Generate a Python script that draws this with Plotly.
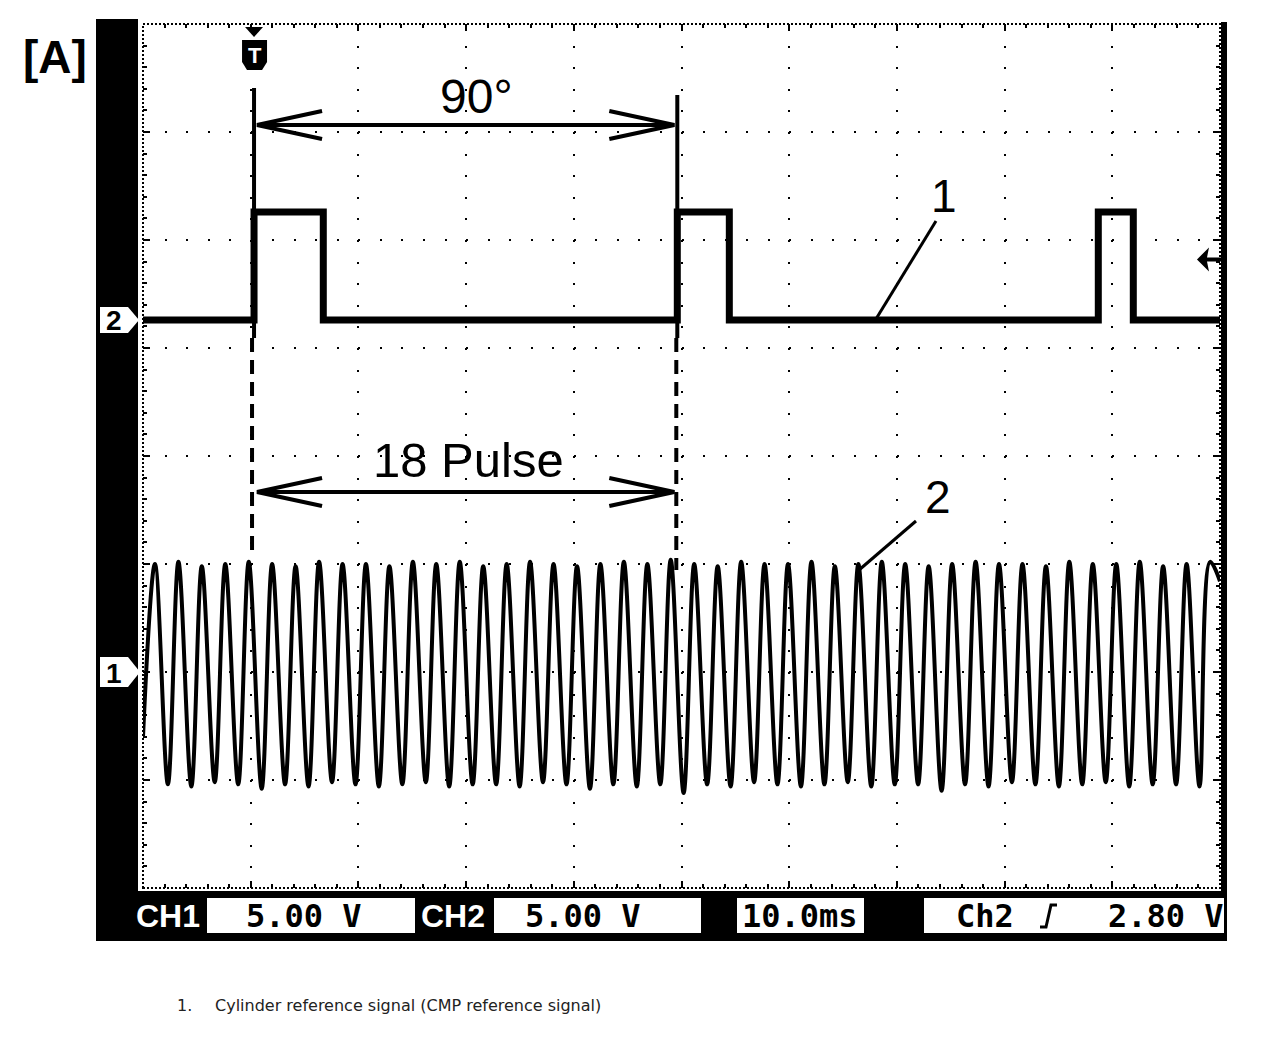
import plotly.graph_objects as go

# ---------------- data ----------------
# time in ms (10.0 ms/div, 10 divisions), voltages in V (5.00 V/div)
ch2_edge_ms = [0.0, 10.31, 16.74, 49.61, 54.44, 88.70, 91.95, 100.0]
ch2_volts = [0.0, 5.0, 0.0, 5.0, 0.0, 5.0, 0.0, 0.0]

ch1_peak_ms = [1.11, 3.29, 5.46, 7.64, 9.82, 11.99, 14.17, 16.35, 18.53, 20.70,
               22.88, 25.06, 27.23, 29.41, 31.59, 33.77, 35.94, 38.12, 40.30, 42.47,
               44.65, 46.83, 49.00, 51.18, 53.36, 55.54, 57.71, 59.89, 62.07, 64.24,
               66.42, 68.60, 70.77, 72.95, 75.13, 77.31, 79.48, 81.66, 83.84, 86.01,
               88.19, 90.37, 92.55, 94.72, 96.90, 99.08]
ch1_peak_v = [5.0, 5.1, 4.9, 5.0, 5.1, 5.0, 4.9, 5.1, 5.0, 5.0,
              4.9, 5.1, 5.0, 5.1, 4.9, 5.0, 5.1, 5.0, 4.9, 5.0,
              5.1, 5.0, 5.2, 5.0, 4.9, 5.1, 5.0, 5.0, 5.1, 4.9,
              5.0, 5.1, 5.0, 4.9, 5.0, 5.1, 5.0, 5.0, 4.9, 5.1,
              5.0, 5.0, 5.1, 4.9, 5.0, 5.1]
ch1_trough_ms = [2.31, 4.49, 6.66, 8.84, 11.02, 13.19, 15.37, 17.55, 19.73, 21.90,
                 24.08, 26.26, 28.43, 30.61, 32.79, 34.97, 37.14, 39.32, 41.50, 43.67,
                 45.85, 48.03, 50.20, 52.38, 54.56, 56.74, 58.91, 61.09, 63.27, 65.44,
                 67.62, 69.80, 71.97, 74.15, 76.33, 78.51, 80.68, 82.86, 85.04, 87.21,
                 89.39, 91.57, 93.75, 95.92, 98.10]
ch1_trough_v = [-5.2, -5.3, -5.1, -5.2, -5.4, -5.2, -5.3, -5.1, -5.2, -5.3,
                -5.2, -5.1, -5.3, -5.2, -5.2, -5.3, -5.1, -5.2, -5.4, -5.2,
                -5.3, -5.2, -5.6, -5.2, -5.3, -5.1, -5.2, -5.3, -5.2, -5.1,
                -5.3, -5.2, -5.2, -5.5, -5.2, -5.3, -5.1, -5.2, -5.3, -5.2,
                -5.1, -5.3, -5.2, -5.2, -5.3]
ch1_start_ms, ch1_start_v = 0.0, -3.0
ch1_end_ms, ch1_end_v = 100.0, 4.2

ms_per_div = 10.0
volts_per_div = 5.0
ch1_ground_div = 2.0
ch2_ground_div = 5.26
trigger_level_v = 2.80

# readout texts
readouts = ["CH1", "5.00 V", "CH2", "5.00 V", "10.0ms", "Ch2", "2.80 V"]

# ---------------- layout geometry ----------------
# page pixel coordinates are used below; the page body has an 8px margin
OFF = 8
W, H = 1264 - OFF, 1056 - OFF
L, R, T, B = 143, 1220, 24, 888   # plot area in page pixels


def px(x):
    return (x - L) / (R - L)


def py(y):
    return (B - y) / (B - T)


# build CH1 point list
ch1_t = [ch1_start_ms]
ch1_v = [ch1_start_v]
for i in range(len(ch1_peak_ms)):
    ch1_t.append(ch1_peak_ms[i])
    ch1_v.append(ch1_peak_v[i])
    if i < len(ch1_trough_ms):
        ch1_t.append(ch1_trough_ms[i])
        ch1_v.append(ch1_trough_v[i])
ch1_t.append(ch1_end_ms)
ch1_v.append(ch1_end_v)
ch1_y = [ch1_ground_div + v / volts_per_div for v in ch1_v]
ch2_y = [ch2_ground_div + v / volts_per_div for v in ch2_volts]

fig = go.Figure()
fig.add_trace(go.Scatter(x=ch1_t, y=ch1_y, mode="lines",
                         line=dict(color="black", width=4, shape="spline", smoothing=1.0),
                         hoverinfo="skip", showlegend=False))
fig.add_trace(go.Scatter(x=ch2_edge_ms, y=ch2_y, mode="lines",
                         line=dict(color="black", width=7, shape="hv"),
                         hoverinfo="skip", showlegend=False))

shapes = []
annotations = []


def rect(x0, y0, x1, y1, color):
    shapes.append(dict(type="rect", xref="paper", yref="paper",
                       x0=px(x0), x1=px(x1), y0=py(y1), y1=py(y0),
                       fillcolor=color, line=dict(width=0), layer="above"))


def path(points, fill=None, width=0, dash="solid", close=False, color="black"):
    d = "M" + " L".join(f"{px(a):.5f},{py(b):.5f}" for a, b in points)
    if close:
        d += " Z"
    s = dict(type="path", xref="paper", yref="paper", path=d, layer="above",
             line=dict(color=color, width=width, dash=dash))
    if fill:
        s["fillcolor"] = fill
    if width == 0:
        s["line"] = dict(width=0)
    shapes.append(s)


def text(x, y, s, size, color="black", family="Liberation Sans", xanchor="center", bold=False):
    annotations.append(dict(xref="paper", yref="paper", x=px(x), y=py(y), text=(f"<b>{s}</b>" if bold else s),
                            showarrow=False, xanchor=xanchor, yanchor="middle",
                            font=dict(size=size, color=color, family=family)))


# dotted frame of the graticule
shapes.append(dict(type="rect", xref="paper", yref="paper", x0=0, x1=1, y0=0, y1=1,
                   line=dict(color="black", width=2, dash="2px,2px"), layer="below"))

# black instrument frame (left, bottom, right)
rect(96, 19, 138, 941, "black")
rect(96, 891, 1227, 941, "black")
rect(1221, 22, 1227, 941, "black")

# readout boxes
rect(207, 898, 415, 933, "white")
rect(494, 898, 701, 933, "white")
rect(737, 898, 864, 933, "white")
rect(924, 898, 1224, 933, "white")
mono = "DejaVu Sans Mono"
text(168, 916, readouts[0], 32, "white", "Liberation Sans", bold=True)
text(304, 916, readouts[1], 32, "black", mono, bold=True)
text(453, 916, readouts[2], 32, "white", "Liberation Sans", bold=True)
text(583, 916, readouts[3], 32, "black", mono, bold=True)
text(800, 916, readouts[4], 32, "black", mono, bold=True)
text(985, 916, readouts[5], 32, "black", mono, bold=True)
text(1166, 916, readouts[6], 32, "black", mono, bold=True)
# rising-slope symbol
path([(1040, 927), (1046, 927), (1051, 905), (1057, 905)], width=3)

# channel ground markers
y2 = B - ch2_ground_div * (B - T) / 8
y1 = B - ch1_ground_div * (B - T) / 8
path([(100, y2 - 13), (128, y2 - 13), (139, y2), (128, y2 + 13), (100, y2 + 13)], fill="white", close=True)
text(114, y2 + 1, "2", 28, "black", "Liberation Sans", bold=True)
path([(100, y1 - 15), (128, y1 - 15), (140, y1), (128, y1 + 15), (100, y1 + 15)], fill="white", close=True)
text(114, y1 + 1, "1", 28, "black", "Liberation Sans", bold=True)

# trigger position marker (T)
xt = L + ch2_edge_ms[1] / 100 * (R - L)
path([(xt - 9, 27), (xt + 9, 27), (xt, 37)], fill="black", close=True)
path([(xt - 12, 40), (xt + 13, 40), (xt + 13, 62), (xt + 8, 70), (xt - 7, 70), (xt - 12, 62)], fill="black", close=True)
text(xt + 0.5, 55, "T", 22, "white", "Liberation Sans", bold=True)

# trigger level marker (right)
yl = B - (ch2_ground_div + trigger_level_v / volts_per_div) * (B - T) / 8
path([(1197, yl), (1209, yl - 12), (1207, yl - 2), (1221, yl - 2), (1221, yl + 2), (1207, yl + 2), (1209, yl + 12)],
     fill="black", close=True)

# measurement annotations tied to the CMP pulse rising edges
xa = L + ch2_edge_ms[1] / 100 * (R - L)
xb = L + ch2_edge_ms[3] / 100 * (R - L)
path([(xa, 88), (xa, 338)], width=4)
path([(xa - 2, 338), (xa - 2, 556)], width=4, dash="14px,8px")
path([(xb, 95), (xb, 338)], width=4)
path([(xb - 1, 338), (xb - 1, 570)], width=4, dash="14px,8px")

for yarr in (125, 492):
    path([(xa + 3, yarr), (xb - 3, yarr)], width=4)
    path([(xa + 68, yarr - 14), (xa + 3, yarr), (xa + 68, yarr + 14)], width=4)
    path([(xb - 68, yarr - 14), (xb - 3, yarr), (xb - 68, yarr + 14)], width=4)

text(476, 97, "90°", 48)
text(468, 460, "18 Pulse", 49)

# callouts
path([(936, 221), (876, 319)], width=3)
text(944, 196, "1", 46)
path([(916, 521), (859, 570)], width=3)
text(938, 497, "2", 46)

# figure label and footnote
text(55, 57, "[A]", 46, bold=True)
annotations.append(dict(xref="paper", yref="paper", x=px(175), y=py(1006), text="1.",
                        showarrow=False, xanchor="left", yanchor="middle",
                        font=dict(size=16, color="#222", family="DejaVu Sans")))
annotations.append(dict(xref="paper", yref="paper", x=px(213), y=py(1006),
                        text="Cylinder reference signal (CMP reference signal)",
                        showarrow=False, xanchor="left", yanchor="middle",
                        font=dict(size=16, color="#222", family="DejaVu Sans")))

fig.update_layout(
    width=W, height=H,
    margin=dict(l=L - OFF, r=W - (R - OFF), t=T - OFF, b=H - (B - OFF), pad=0),
    paper_bgcolor="white", plot_bgcolor="white",
    shapes=shapes, annotations=annotations,
    showlegend=False,
    xaxis=dict(range=[0, 10 * ms_per_div], dtick=ms_per_div, showticklabels=False,
               showgrid=True, gridcolor="black", gridwidth=2, griddash="2px,19.6px",
               zeroline=False, showline=False, ticks="inside", ticklen=7, tickwidth=2,
               tickcolor="black", mirror="ticks",
               minor=dict(dtick=ms_per_div / 5, ticks="inside", ticklen=4, tickwidth=2,
                          tickcolor="black", showgrid=False),
               fixedrange=True),
    yaxis=dict(range=[0, 8], dtick=1, showticklabels=False,
               showgrid=True, gridcolor="black", gridwidth=2, griddash="2px,19.54px",
               zeroline=False, showline=False, ticks="inside", ticklen=7, tickwidth=2,
               tickcolor="black", mirror="ticks",
               minor=dict(dtick=0.2, ticks="inside", ticklen=4, tickwidth=2,
                          tickcolor="black", showgrid=False),
               fixedrange=True),
)

fig.write_html("out.html")
